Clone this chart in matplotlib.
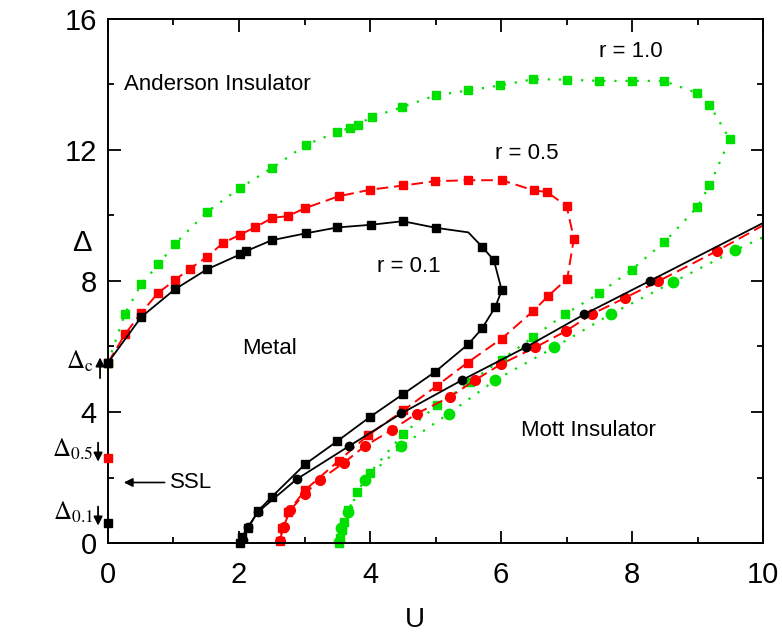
import numpy as np
import matplotlib
matplotlib.use('agg')
import matplotlib.pyplot as plt

plt.rcParams['font.family'] = ['Liberation Sans', 'DejaVu Sans']
plt.rcParams['mathtext.fontset'] = 'stix'

# r = 0.1 : Anderson boundary (squares) and Mott line (circles)
u_sq_01 = [0.0, 0.51, 1.02, 1.51, 2.02, 2.10, 2.50, 3.02, 3.50, 4.01, 4.50, 5.00, 5.50,
           5.71, 5.89, 6.01, 5.91, 5.71, 5.50, 4.99, 4.50, 4.00, 3.50, 3.01, 2.50, 2.29,
           2.14, 2.04, 2.02]
d_sq_01 = [5.5, 6.90, 7.74, 8.35, 8.81, 8.90, 9.24, 9.45, 9.63, 9.71, 9.82, 9.62, 9.48,
           9.04, 8.63, 7.71, 7.20, 6.55, 6.07, 5.22, 4.54, 3.85, 3.11, 2.41, 1.41, 0.98,
           0.46, 0.19, 0.0]
u_ci_01 = [2.06, 2.14, 2.29, 2.88, 3.68, 4.48, 5.40, 6.38, 7.27, 8.27, 10.5]
d_ci_01 = [0.1, 0.5, 0.95, 1.95, 2.96, 3.96, 4.97, 5.98, 6.98, 8.0, 10.28]

# r = 0.5
u_sq_05 = [0.0, 0.26, 0.51, 0.77, 1.02, 1.25, 1.51, 1.76, 2.02, 2.25, 2.51, 2.75, 3.01,
           3.52, 4.00, 4.51, 4.99, 5.50, 6.01, 6.50, 6.70, 7.00, 7.11, 7.01, 6.72, 6.49,
           6.01, 5.49, 5.02, 4.51, 3.97, 3.52, 3.01, 2.75, 2.66, 2.62]
d_sq_05 = [5.5, 6.37, 7.03, 7.64, 8.02, 8.37, 8.73, 9.16, 9.41, 9.64, 9.92, 9.98, 10.22,
           10.58, 10.78, 10.91, 11.04, 11.07, 11.07, 10.76, 10.71, 10.28, 9.29, 8.07, 7.54,
           7.08, 6.24, 5.51, 4.80, 4.05, 3.29, 2.51, 1.62, 0.95, 0.45, 0.05]
u_ci_05 = [2.62, 2.68, 2.78, 3.00, 3.24, 3.60, 3.92, 4.33, 4.71, 5.22, 5.60, 6.00, 6.52,
           6.99, 7.38, 7.89, 8.40, 9.30, 10.5]
d_ci_05 = [0.05, 0.5, 1.0, 1.5, 1.94, 2.45, 2.96, 3.45, 3.95, 4.46, 4.97, 5.46, 5.97,
           6.47, 6.98, 7.48, 7.99, 8.92, 10.25]

# r = 1.0
u_sq_10 = [0.0, 0.26, 0.51, 0.77, 1.02, 1.51, 2.02, 2.51, 3.02, 3.50, 3.70, 3.81, 4.03,
           4.49, 5.00, 5.50, 5.98, 6.49, 7.00, 7.49, 7.99, 8.48, 8.99, 9.18, 9.49, 9.18,
           8.99, 8.49, 7.99, 7.50, 6.98, 6.49, 6.01, 5.53, 5.02, 4.50, 4.00, 3.80, 3.67,
           3.60, 3.57, 3.54, 3.53]
d_sq_10 = [5.5, 7.0, 7.9, 8.5, 9.12, 10.1, 10.84, 11.45, 12.15, 12.54, 12.67, 12.77, 13.0,
           13.30, 13.66, 13.81, 13.96, 14.15, 14.14, 14.10, 14.10, 14.10, 13.73, 13.37,
           12.32, 10.91, 10.24, 9.18, 8.34, 7.62, 6.99, 6.29, 5.60, 4.92, 4.21, 3.32, 2.15,
           1.56, 1.0, 0.65, 0.40, 0.15, 0.0]
u_ci_10 = [3.52, 3.56, 3.66, 3.92, 4.48, 5.20, 5.91, 6.81, 7.67, 8.63, 9.57, 10.5]
d_ci_10 = [0.02, 0.45, 0.95, 1.94, 2.96, 3.95, 4.97, 5.97, 6.98, 7.97, 8.93, 9.8]

# points on the U = 0 axis
u_axis = [0.0, 0.0]
d_axis = [2.6, 0.6]
axis_colors = ['red', 'black']

green = '#00e000'

fig = plt.figure(figsize=(7.82, 6.42), dpi=100)
ax = fig.add_axes([0.138, 0.154, 0.838, 0.817])

# r = 1.0 (green, dotted)
ax.plot(u_sq_10, d_sq_10, linestyle=(0, (1, 4)), lw=1.6, color=green,
        marker='s', ms=6, mec=green, mfc=green, clip_on=False)
ax.plot(u_ci_10, d_ci_10, linestyle=(0, (1, 4)), lw=1.6, color=green,
        marker='o', ms=7.5, mec=green, mfc=green)

# r = 0.5 (red, dashed)
ax.plot(u_sq_05, d_sq_05, linestyle=(0, (6, 3)), lw=1.4, color='red',
        marker='s', ms=5.5, mec='red', mfc='red', clip_on=False)
ax.plot(u_ci_05, d_ci_05, linestyle=(0, (6, 3)), lw=1.4, color='red',
        marker='o', ms=7, mec='red', mfc='red')

# r = 0.1 (black, solid)
sq_marks = [i for i in range(len(u_sq_01)) if i != 12]
ax.plot(u_sq_01, d_sq_01, '-', lw=1.3, color='black',
        marker='s', ms=5.5, markevery=sq_marks, clip_on=False)
ax.plot(u_ci_01, d_ci_01, '-', lw=1.3, color='black',
        marker='o', ms=6)

for u, d, c in zip(u_axis, d_axis, axis_colors):
    ax.plot(u, d, 's', ms=6, color=c, clip_on=False, zorder=5)

ax.set_xlim(0, 10)
ax.set_ylim(0, 16)
ax.set_xticks([0, 2, 4, 6, 8, 10])
ax.set_xticks(np.arange(0, 11, 1), minor=True)
ax.set_yticks([0, 4, 8, 12, 16])
ax.set_yticks([2, 6, 10, 14], minor=True)
ax.tick_params(which='both', direction='in', top=True, right=True, labelsize=21, width=1.3)
ax.tick_params(which='major', length=9)
ax.tick_params(axis='x', which='major', pad=13)
ax.tick_params(axis='y', which='major', pad=8)
ax.tick_params(which='minor', length=4)
for s in ax.spines.values():
    s.set_linewidth(1.4)

ax.set_xlabel('U', fontsize=20, va='top')
ax.xaxis.set_label_coords(0.469, -0.122)
ax.set_ylabel('Δ', fontsize=21, rotation=0, va='center', ha='center')
ax.yaxis.set_label_coords(-0.04, 0.572)

# region labels
ax.text(0.25, 14.0, 'Anderson Insulator', fontsize=16, va='center')
ax.text(2.05, 5.95, 'Metal', fontsize=16, va='center')
ax.text(6.3, 3.45, 'Mott Insulator', fontsize=16, va='center')
ax.text(4.1, 8.45, 'r = 0.1', fontsize=16, va='center')
ax.text(5.9, 11.9, 'r = 0.5', fontsize=16, va='center')
ax.text(7.5, 15.0, 'r = 1.0', fontsize=16, va='center')

# labels on the U = 0 axis
arrow = dict(arrowstyle='-|>', color='black', lw=1.3, mutation_scale=13)
ax.text(-0.22, 5.55, r'$\Delta_{\rm c}$', fontsize=18, ha='right', va='center', clip_on=False)
ax.annotate('', xy=(-0.12, 5.75), xytext=(-0.12, 4.95), arrowprops=arrow, annotation_clip=False)
ax.text(-0.22, 2.85, r'$\Delta_{\rm 0.5}$', fontsize=18, ha='right', va='center', clip_on=False)
ax.annotate('', xy=(-0.15, 2.4), xytext=(-0.15, 3.15), arrowprops=arrow, annotation_clip=False)
ax.text(-0.22, 0.95, r'$\Delta_{\rm 0.1}$', fontsize=18, ha='right', va='center', clip_on=False)
ax.annotate('', xy=(-0.15, 0.45), xytext=(-0.15, 1.2), arrowprops=arrow, annotation_clip=False)
ax.annotate('SSL', xy=(0.2, 1.85), xytext=(0.95, 1.85), fontsize=16, va='center',
            arrowprops=dict(arrowstyle='-|>', color='black', lw=1.2, mutation_scale=13))

fig.savefig('out.png', dpi=100)
